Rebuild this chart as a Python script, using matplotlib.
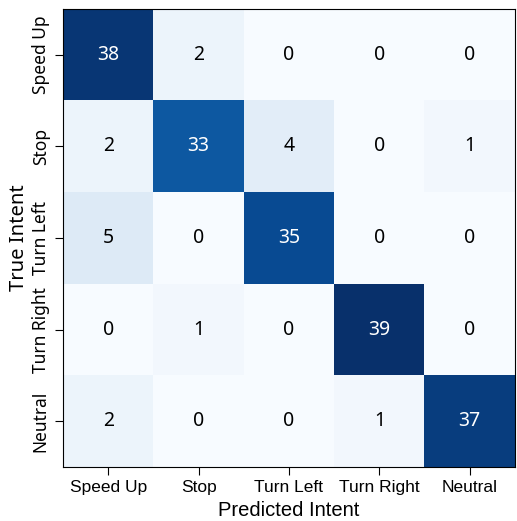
import numpy as np
import matplotlib
matplotlib.use("Agg")
import matplotlib.pyplot as plt

plt.rcParams['font.family'] = ['Liberation Sans', 'DejaVu Sans']

labels = ["Speed Up", "Stop", "Turn Left", "Turn Right", "Neutral"]
matrix = np.array([
    [38, 2, 0, 0, 0],
    [2, 33, 4, 0, 1],
    [5, 0, 35, 0, 0],
    [0, 1, 0, 39, 0],
    [2, 0, 0, 1, 37],
])

fig = plt.figure(figsize=(5.17, 5.21), dpi=100)
ax = fig.add_axes([63 / 517, 54 / 521, 452 / 517, 458 / 521])

ax.imshow(matrix, cmap='Blues', vmin=0, vmax=matrix.max(), aspect='auto')

thresh = matrix.max() / 2
for i in range(matrix.shape[0]):
    for j in range(matrix.shape[1]):
        color = 'white' if matrix[i, j] > thresh else 'black'
        ax.text(j, i, str(matrix[i, j]), ha='center', va='center',
                color=color, fontsize=14, family='Noto Sans')

ax.set_xticks(range(len(labels)))
ax.set_xticklabels(labels, fontsize=12.5)
ax.set_yticks(range(len(labels)))
ax.set_yticklabels(labels, fontsize=12.5, rotation=90, va='center',
                   family='Noto Sans')
ax.tick_params(length=6)
ax.set_xlabel("Predicted Intent", fontsize=14.5, labelpad=4)
ax.set_ylabel("True Intent", fontsize=14.5, labelpad=2, family='Noto Sans')

plt.savefig("out.png", dpi=100)
